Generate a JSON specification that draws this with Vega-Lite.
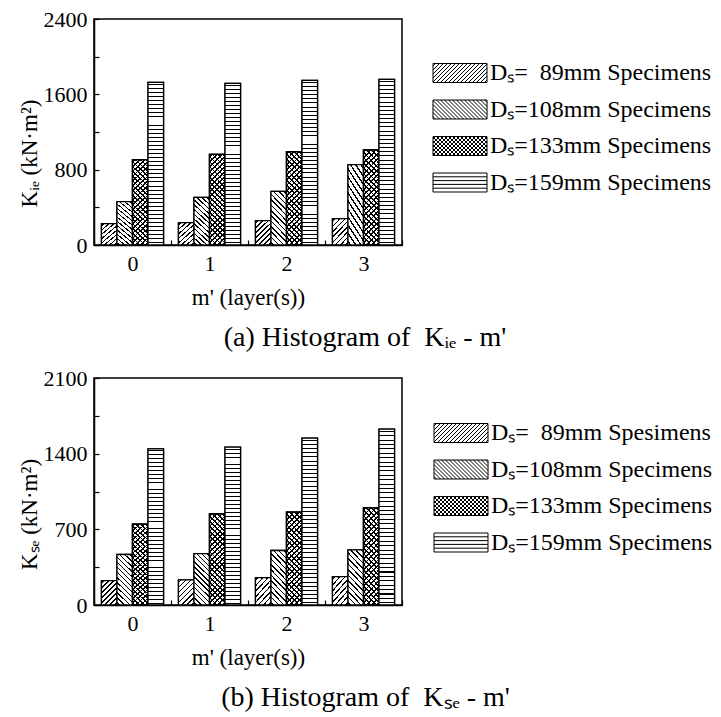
{
"$schema": "https://vega.github.io/schema/vega-lite/v6.json",
"background": "white",
"padding": {"left": 17, "top": 7, "right": 5, "bottom": 5},
"spacing": 13,
"datasets": {
"ie": [
{"m":"0","series":"s089","K":226},{"m":"0","series":"s108","K":460},{"m":"0","series":"s133","K":906},{"m":"0","series":"s159","K":1727},
{"m":"1","series":"s089","K":237},{"m":"1","series":"s108","K":506},{"m":"1","series":"s133","K":963},{"m":"1","series":"s159","K":1717},
{"m":"2","series":"s089","K":258},{"m":"2","series":"s108","K":570},{"m":"2","series":"s133","K":991},{"m":"2","series":"s159","K":1749},
{"m":"3","series":"s089","K":280},{"m":"3","series":"s108","K":853},{"m":"3","series":"s133","K":1009},{"m":"3","series":"s159","K":1759}
],
"se": [
{"m":"0","series":"s089","K":226},{"m":"0","series":"s108","K":467},{"m":"0","series":"s133","K":748},{"m":"0","series":"s159","K":1444},
{"m":"1","series":"s089","K":232},{"m":"1","series":"s108","K":476},{"m":"1","series":"s133","K":844},{"m":"1","series":"s159","K":1460},
{"m":"2","series":"s089","K":254},{"m":"2","series":"s108","K":504},{"m":"2","series":"s133","K":860},{"m":"2","series":"s159","K":1543},
{"m":"3","series":"s089","K":263},{"m":"3","series":"s108","K":510},{"m":"3","series":"s133","K":900},{"m":"3","series":"s159","K":1627}
]
},
"vconcat": [
{
"data": {"name": "ie"},
"width": 308, "height": 226,
"title": {"text": "(a) Histogram of\u00a0\u00a0K\u1d62\u2091 - m'", "orient": "bottom", "anchor": "middle", "frame": "bounds", "offset": 15},
"encoding": {
"x": {"field": "m", "type": "nominal", "scale": {"paddingInner": 0, "paddingOuter": 0}, "axis": {"title": "m' (layer(s))", "labelAngle": 0, "tickBand": "extent", "labelPadding": 13, "titlePadding": 12}},
"y": {"field": "K", "type": "quantitative", "scale": {"domain": [0, 2400], "nice": false}, "axis": {"title": "K\u1d62\u2091 (kN\u00b7m\u00b2)", "values": [0,400,800,1200,1600,2000,2400], "format": "d", "labelExpr": "datum.value % 800 === 0 ? datum.label : ''", "labelOverlap": false, "labelPadding": 12, "titlePadding": 2, "titleY": 134}},
"xOffset": {"field": "series", "type": "nominal", "scale": {"paddingInner": 0, "paddingOuter": 0.48}}
},
"layer": [
{"mark": {"type": "bar", "fill": "white", "strokeWidth": 1.3},
 "encoding": {"stroke": {"field": "series", "type": "nominal", "scale": {"range": ["black","black","black","black"]},
  "legend": {"title": null, "orient": "none", "legendX": 327, "legendY": 42, "symbolSize": 4, "symbolOffset": 27, "labelOffset": 18, "rowPadding": 12.5, "symbolStrokeWidth": 1, "labelFontSize": 24, "labelFont": "Liberation Serif", "labelColor": "black", "labelLimit": 0,
   "labelExpr": "datum.value === 's089' ? 'D\u209b=\u00a0\u00a089mm Specimens' : datum.value === 's108' ? 'D\u209b=108mm Specimens' : datum.value === 's133' ? 'D\u209b=133mm Specimens' : 'D\u209b=159mm Specimens'",
   "encoding": {"symbols": {"strokeWidth": {"value": 1}, "shape": {"condition": [
    {"test": "datum.value === 's089'", "value": "M-27,-9.5H27V9.5H-27ZM-27,-7L-24.5,-9.5M-27,-3L-20.5,-9.5M-27,1L-16.5,-9.5M-27,5L-12.5,-9.5M-27,9L-8.5,-9.5M-23.5,9.5L-4.5,-9.5M-19.5,9.5L-0.5,-9.5M-15.5,9.5L3.5,-9.5M-11.5,9.5L7.5,-9.5M-7.5,9.5L11.5,-9.5M-3.5,9.5L15.5,-9.5M0.5,9.5L19.5,-9.5M4.5,9.5L23.5,-9.5M8.5,9.5L27,-9M12.5,9.5L27,-5M16.5,9.5L27,-1M20.5,9.5L27,3M24.5,9.5L27,7"},
    {"test": "datum.value === 's108'", "value": "M-27,-9.5H27V9.5H-27ZM27,-7L24.5,-9.5M27,-3L20.5,-9.5M27,1L16.5,-9.5M27,5L12.5,-9.5M27,9L8.5,-9.5M23.5,9.5L4.5,-9.5M19.5,9.5L0.5,-9.5M15.5,9.5L-3.5,-9.5M11.5,9.5L-7.5,-9.5M7.5,9.5L-11.5,-9.5M3.5,9.5L-15.5,-9.5M-0.5,9.5L-19.5,-9.5M-4.5,9.5L-23.5,-9.5M-8.5,9.5L-27,-9M-12.5,9.5L-27,-5M-16.5,9.5L-27,-1M-20.5,9.5L-27,3M-24.5,9.5L-27,7"},
    {"test": "datum.value === 's133'", "value": "M-27,-9.5H27V9.5H-27ZM-27,-7L-24.5,-9.5M-27,-3L-20.5,-9.5M-27,1L-16.5,-9.5M-27,5L-12.5,-9.5M-27,9L-8.5,-9.5M-23.5,9.5L-4.5,-9.5M-19.5,9.5L-0.5,-9.5M-15.5,9.5L3.5,-9.5M-11.5,9.5L7.5,-9.5M-7.5,9.5L11.5,-9.5M-3.5,9.5L15.5,-9.5M0.5,9.5L19.5,-9.5M4.5,9.5L23.5,-9.5M8.5,9.5L27,-9M12.5,9.5L27,-5M16.5,9.5L27,-1M20.5,9.5L27,3M24.5,9.5L27,7M27,-7L24.5,-9.5M27,-3L20.5,-9.5M27,1L16.5,-9.5M27,5L12.5,-9.5M27,9L8.5,-9.5M23.5,9.5L4.5,-9.5M19.5,9.5L0.5,-9.5M15.5,9.5L-3.5,-9.5M11.5,9.5L-7.5,-9.5M7.5,9.5L-11.5,-9.5M3.5,9.5L-15.5,-9.5M-0.5,9.5L-19.5,-9.5M-4.5,9.5L-23.5,-9.5M-8.5,9.5L-27,-9M-12.5,9.5L-27,-5M-16.5,9.5L-27,-1M-20.5,9.5L-27,3M-24.5,9.5L-27,7"}
   ], "value": "M-27,-9.5H27V9.5H-27ZM-27,-5.7H27M-27,-1.9H27M-27,1.9H27M-27,5.7H27"}}}
  }}}},
{"transform": [{"filter": "datum.series === 's089'"}], "mark": {"type": "bar", "stroke": "black", "strokeWidth": 1.3, "fill": {"gradient": "linear", "x1": 0, "y1": 0, "x2": 0.7255, "y2": 1.17, "stops": [
{"offset":0.0435,"color":"#fff"},{"offset":0.0435,"color":"#000"},{"offset":0.0815,"color":"#000"},{"offset":0.0815,"color":"#fff"},
{"offset":0.1685,"color":"#fff"},{"offset":0.1685,"color":"#000"},{"offset":0.2065,"color":"#000"},{"offset":0.2065,"color":"#fff"},
{"offset":0.2935,"color":"#fff"},{"offset":0.2935,"color":"#000"},{"offset":0.3315,"color":"#000"},{"offset":0.3315,"color":"#fff"},
{"offset":0.4185,"color":"#fff"},{"offset":0.4185,"color":"#000"},{"offset":0.4565,"color":"#000"},{"offset":0.4565,"color":"#fff"},
{"offset":0.5435,"color":"#fff"},{"offset":0.5435,"color":"#000"},{"offset":0.5815,"color":"#000"},{"offset":0.5815,"color":"#fff"},
{"offset":0.6685,"color":"#fff"},{"offset":0.6685,"color":"#000"},{"offset":0.7065,"color":"#000"},{"offset":0.7065,"color":"#fff"},
{"offset":0.7935,"color":"#fff"},{"offset":0.7935,"color":"#000"},{"offset":0.8315,"color":"#000"},{"offset":0.8315,"color":"#fff"},
{"offset":0.9185,"color":"#fff"},{"offset":0.9185,"color":"#000"},{"offset":0.9565,"color":"#000"},{"offset":0.9565,"color":"#fff"}
]}}},
{"transform": [{"filter": "datum.series === 's108'"}], "mark": {"type": "bar", "stroke": "black", "strokeWidth": 1.3, "fill": {"gradient": "linear", "x1": 0, "y1": 1, "x2": 0.3553, "y2": -0.1921, "stops": [
{"offset":0.0270,"color":"#fff"},{"offset":0.0270,"color":"#000"},{"offset":0.0500,"color":"#000"},{"offset":0.0500,"color":"#fff"},
{"offset":0.1039,"color":"#fff"},{"offset":0.1039,"color":"#000"},{"offset":0.1269,"color":"#000"},{"offset":0.1269,"color":"#fff"},
{"offset":0.1808,"color":"#fff"},{"offset":0.1808,"color":"#000"},{"offset":0.2038,"color":"#000"},{"offset":0.2038,"color":"#fff"},
{"offset":0.2577,"color":"#fff"},{"offset":0.2577,"color":"#000"},{"offset":0.2807,"color":"#000"},{"offset":0.2807,"color":"#fff"},
{"offset":0.3347,"color":"#fff"},{"offset":0.3347,"color":"#000"},{"offset":0.3577,"color":"#000"},{"offset":0.3577,"color":"#fff"},
{"offset":0.4116,"color":"#fff"},{"offset":0.4116,"color":"#000"},{"offset":0.4346,"color":"#000"},{"offset":0.4346,"color":"#fff"},
{"offset":0.4885,"color":"#fff"},{"offset":0.4885,"color":"#000"},{"offset":0.5115,"color":"#000"},{"offset":0.5115,"color":"#fff"},
{"offset":0.5654,"color":"#fff"},{"offset":0.5654,"color":"#000"},{"offset":0.5884,"color":"#000"},{"offset":0.5884,"color":"#fff"},
{"offset":0.6424,"color":"#fff"},{"offset":0.6424,"color":"#000"},{"offset":0.6654,"color":"#000"},{"offset":0.6654,"color":"#fff"},
{"offset":0.7193,"color":"#fff"},{"offset":0.7193,"color":"#000"},{"offset":0.7423,"color":"#000"},{"offset":0.7423,"color":"#fff"},
{"offset":0.7962,"color":"#fff"},{"offset":0.7962,"color":"#000"},{"offset":0.8192,"color":"#000"},{"offset":0.8192,"color":"#fff"},
{"offset":0.8731,"color":"#fff"},{"offset":0.8731,"color":"#000"},{"offset":0.8961,"color":"#000"},{"offset":0.8961,"color":"#fff"},
{"offset":0.9500,"color":"#fff"},{"offset":0.9500,"color":"#000"},{"offset":0.9730,"color":"#000"},{"offset":0.9730,"color":"#fff"}
]}}},
{"transform": [{"filter": "datum.series === 's133'"}], "mark": {"type": "bar", "stroke": "black", "strokeWidth": 1.3, "fill": {"gradient": "linear", "x1": 0, "y1": 0, "x2": 0.1961, "y2": 1.1385, "stops": [
{"offset":0.0158,"color":"#fff"},{"offset":0.0158,"color":"#000"},{"offset":0.0318,"color":"#000"},{"offset":0.0318,"color":"#fff"},
{"offset":0.0634,"color":"#fff"},{"offset":0.0634,"color":"#000"},{"offset":0.0794,"color":"#000"},{"offset":0.0794,"color":"#fff"},
{"offset":0.1110,"color":"#fff"},{"offset":0.1110,"color":"#000"},{"offset":0.1270,"color":"#000"},{"offset":0.1270,"color":"#fff"},
{"offset":0.1587,"color":"#fff"},{"offset":0.1587,"color":"#000"},{"offset":0.1747,"color":"#000"},{"offset":0.1747,"color":"#fff"},
{"offset":0.2063,"color":"#fff"},{"offset":0.2063,"color":"#000"},{"offset":0.2223,"color":"#000"},{"offset":0.2223,"color":"#fff"},
{"offset":0.2539,"color":"#fff"},{"offset":0.2539,"color":"#000"},{"offset":0.2699,"color":"#000"},{"offset":0.2699,"color":"#fff"},
{"offset":0.3015,"color":"#fff"},{"offset":0.3015,"color":"#000"},{"offset":0.3175,"color":"#000"},{"offset":0.3175,"color":"#fff"},
{"offset":0.3491,"color":"#fff"},{"offset":0.3491,"color":"#000"},{"offset":0.3651,"color":"#000"},{"offset":0.3651,"color":"#fff"},
{"offset":0.3968,"color":"#fff"},{"offset":0.3968,"color":"#000"},{"offset":0.4128,"color":"#000"},{"offset":0.4128,"color":"#fff"},
{"offset":0.4444,"color":"#fff"},{"offset":0.4444,"color":"#000"},{"offset":0.4604,"color":"#000"},{"offset":0.4604,"color":"#fff"},
{"offset":0.4920,"color":"#fff"},{"offset":0.4920,"color":"#000"},{"offset":0.5080,"color":"#000"},{"offset":0.5080,"color":"#fff"},
{"offset":0.5396,"color":"#fff"},{"offset":0.5396,"color":"#000"},{"offset":0.5556,"color":"#000"},{"offset":0.5556,"color":"#fff"},
{"offset":0.5872,"color":"#fff"},{"offset":0.5872,"color":"#000"},{"offset":0.6032,"color":"#000"},{"offset":0.6032,"color":"#fff"},
{"offset":0.6349,"color":"#fff"},{"offset":0.6349,"color":"#000"},{"offset":0.6509,"color":"#000"},{"offset":0.6509,"color":"#fff"},
{"offset":0.6825,"color":"#fff"},{"offset":0.6825,"color":"#000"},{"offset":0.6985,"color":"#000"},{"offset":0.6985,"color":"#fff"},
{"offset":0.7301,"color":"#fff"},{"offset":0.7301,"color":"#000"},{"offset":0.7461,"color":"#000"},{"offset":0.7461,"color":"#fff"},
{"offset":0.7777,"color":"#fff"},{"offset":0.7777,"color":"#000"},{"offset":0.7937,"color":"#000"},{"offset":0.7937,"color":"#fff"},
{"offset":0.8253,"color":"#fff"},{"offset":0.8253,"color":"#000"},{"offset":0.8413,"color":"#000"},{"offset":0.8413,"color":"#fff"},
{"offset":0.8730,"color":"#fff"},{"offset":0.8730,"color":"#000"},{"offset":0.8890,"color":"#000"},{"offset":0.8890,"color":"#fff"},
{"offset":0.9206,"color":"#fff"},{"offset":0.9206,"color":"#000"},{"offset":0.9366,"color":"#000"},{"offset":0.9366,"color":"#fff"},
{"offset":0.9682,"color":"#fff"},{"offset":0.9682,"color":"#000"},{"offset":0.9842,"color":"#000"},{"offset":0.9842,"color":"#fff"}
]}}},
{"transform": [{"filter": "datum.series === 's133'"}], "mark": {"type": "bar", "stroke": "black", "strokeWidth": 1.3, "fill": {"gradient": "linear", "x1": 0, "y1": 1, "x2": 0.1961, "y2": -0.1385, "stops": [
{"offset":0.0158,"color":"rgba(0,0,0,0)"},{"offset":0.0158,"color":"#000"},{"offset":0.0318,"color":"#000"},{"offset":0.0318,"color":"rgba(0,0,0,0)"},
{"offset":0.0634,"color":"rgba(0,0,0,0)"},{"offset":0.0634,"color":"#000"},{"offset":0.0794,"color":"#000"},{"offset":0.0794,"color":"rgba(0,0,0,0)"},
{"offset":0.1110,"color":"rgba(0,0,0,0)"},{"offset":0.1110,"color":"#000"},{"offset":0.1270,"color":"#000"},{"offset":0.1270,"color":"rgba(0,0,0,0)"},
{"offset":0.1587,"color":"rgba(0,0,0,0)"},{"offset":0.1587,"color":"#000"},{"offset":0.1747,"color":"#000"},{"offset":0.1747,"color":"rgba(0,0,0,0)"},
{"offset":0.2063,"color":"rgba(0,0,0,0)"},{"offset":0.2063,"color":"#000"},{"offset":0.2223,"color":"#000"},{"offset":0.2223,"color":"rgba(0,0,0,0)"},
{"offset":0.2539,"color":"rgba(0,0,0,0)"},{"offset":0.2539,"color":"#000"},{"offset":0.2699,"color":"#000"},{"offset":0.2699,"color":"rgba(0,0,0,0)"},
{"offset":0.3015,"color":"rgba(0,0,0,0)"},{"offset":0.3015,"color":"#000"},{"offset":0.3175,"color":"#000"},{"offset":0.3175,"color":"rgba(0,0,0,0)"},
{"offset":0.3491,"color":"rgba(0,0,0,0)"},{"offset":0.3491,"color":"#000"},{"offset":0.3651,"color":"#000"},{"offset":0.3651,"color":"rgba(0,0,0,0)"},
{"offset":0.3968,"color":"rgba(0,0,0,0)"},{"offset":0.3968,"color":"#000"},{"offset":0.4128,"color":"#000"},{"offset":0.4128,"color":"rgba(0,0,0,0)"},
{"offset":0.4444,"color":"rgba(0,0,0,0)"},{"offset":0.4444,"color":"#000"},{"offset":0.4604,"color":"#000"},{"offset":0.4604,"color":"rgba(0,0,0,0)"},
{"offset":0.4920,"color":"rgba(0,0,0,0)"},{"offset":0.4920,"color":"#000"},{"offset":0.5080,"color":"#000"},{"offset":0.5080,"color":"rgba(0,0,0,0)"},
{"offset":0.5396,"color":"rgba(0,0,0,0)"},{"offset":0.5396,"color":"#000"},{"offset":0.5556,"color":"#000"},{"offset":0.5556,"color":"rgba(0,0,0,0)"},
{"offset":0.5872,"color":"rgba(0,0,0,0)"},{"offset":0.5872,"color":"#000"},{"offset":0.6032,"color":"#000"},{"offset":0.6032,"color":"rgba(0,0,0,0)"},
{"offset":0.6349,"color":"rgba(0,0,0,0)"},{"offset":0.6349,"color":"#000"},{"offset":0.6509,"color":"#000"},{"offset":0.6509,"color":"rgba(0,0,0,0)"},
{"offset":0.6825,"color":"rgba(0,0,0,0)"},{"offset":0.6825,"color":"#000"},{"offset":0.6985,"color":"#000"},{"offset":0.6985,"color":"rgba(0,0,0,0)"},
{"offset":0.7301,"color":"rgba(0,0,0,0)"},{"offset":0.7301,"color":"#000"},{"offset":0.7461,"color":"#000"},{"offset":0.7461,"color":"rgba(0,0,0,0)"},
{"offset":0.7777,"color":"rgba(0,0,0,0)"},{"offset":0.7777,"color":"#000"},{"offset":0.7937,"color":"#000"},{"offset":0.7937,"color":"rgba(0,0,0,0)"},
{"offset":0.8253,"color":"rgba(0,0,0,0)"},{"offset":0.8253,"color":"#000"},{"offset":0.8413,"color":"#000"},{"offset":0.8413,"color":"rgba(0,0,0,0)"},
{"offset":0.8730,"color":"rgba(0,0,0,0)"},{"offset":0.8730,"color":"#000"},{"offset":0.8890,"color":"#000"},{"offset":0.8890,"color":"rgba(0,0,0,0)"},
{"offset":0.9206,"color":"rgba(0,0,0,0)"},{"offset":0.9206,"color":"#000"},{"offset":0.9366,"color":"#000"},{"offset":0.9366,"color":"rgba(0,0,0,0)"},
{"offset":0.9682,"color":"rgba(0,0,0,0)"},{"offset":0.9682,"color":"#000"},{"offset":0.9842,"color":"#000"},{"offset":0.9842,"color":"rgba(0,0,0,0)"}
]}}},
{"transform": [{"filter": "datum.series === 's159'"}], "mark": {"type": "bar", "stroke": "black", "strokeWidth": 1.3, "fill": {"gradient": "linear", "x1": 0, "y1": 0, "x2": 0, "y2": 1, "stops": [
{"offset":0.0095,"color":"#fff"},{"offset":0.0095,"color":"#000"},{"offset":0.0155,"color":"#000"},{"offset":0.0155,"color":"#fff"},
{"offset":0.0345,"color":"#fff"},{"offset":0.0345,"color":"#000"},{"offset":0.0405,"color":"#000"},{"offset":0.0405,"color":"#fff"},
{"offset":0.0595,"color":"#fff"},{"offset":0.0595,"color":"#000"},{"offset":0.0655,"color":"#000"},{"offset":0.0655,"color":"#fff"},
{"offset":0.0845,"color":"#fff"},{"offset":0.0845,"color":"#000"},{"offset":0.0905,"color":"#000"},{"offset":0.0905,"color":"#fff"},
{"offset":0.1095,"color":"#fff"},{"offset":0.1095,"color":"#000"},{"offset":0.1155,"color":"#000"},{"offset":0.1155,"color":"#fff"},
{"offset":0.1345,"color":"#fff"},{"offset":0.1345,"color":"#000"},{"offset":0.1405,"color":"#000"},{"offset":0.1405,"color":"#fff"},
{"offset":0.1595,"color":"#fff"},{"offset":0.1595,"color":"#000"},{"offset":0.1655,"color":"#000"},{"offset":0.1655,"color":"#fff"},
{"offset":0.1845,"color":"#fff"},{"offset":0.1845,"color":"#000"},{"offset":0.1905,"color":"#000"},{"offset":0.1905,"color":"#fff"},
{"offset":0.2095,"color":"#fff"},{"offset":0.2095,"color":"#000"},{"offset":0.2155,"color":"#000"},{"offset":0.2155,"color":"#fff"},
{"offset":0.2345,"color":"#fff"},{"offset":0.2345,"color":"#000"},{"offset":0.2405,"color":"#000"},{"offset":0.2405,"color":"#fff"},
{"offset":0.2595,"color":"#fff"},{"offset":0.2595,"color":"#000"},{"offset":0.2655,"color":"#000"},{"offset":0.2655,"color":"#fff"},
{"offset":0.2845,"color":"#fff"},{"offset":0.2845,"color":"#000"},{"offset":0.2905,"color":"#000"},{"offset":0.2905,"color":"#fff"},
{"offset":0.3095,"color":"#fff"},{"offset":0.3095,"color":"#000"},{"offset":0.3155,"color":"#000"},{"offset":0.3155,"color":"#fff"},
{"offset":0.3345,"color":"#fff"},{"offset":0.3345,"color":"#000"},{"offset":0.3405,"color":"#000"},{"offset":0.3405,"color":"#fff"},
{"offset":0.3595,"color":"#fff"},{"offset":0.3595,"color":"#000"},{"offset":0.3655,"color":"#000"},{"offset":0.3655,"color":"#fff"},
{"offset":0.3845,"color":"#fff"},{"offset":0.3845,"color":"#000"},{"offset":0.3905,"color":"#000"},{"offset":0.3905,"color":"#fff"},
{"offset":0.4095,"color":"#fff"},{"offset":0.4095,"color":"#000"},{"offset":0.4155,"color":"#000"},{"offset":0.4155,"color":"#fff"},
{"offset":0.4345,"color":"#fff"},{"offset":0.4345,"color":"#000"},{"offset":0.4405,"color":"#000"},{"offset":0.4405,"color":"#fff"},
{"offset":0.4595,"color":"#fff"},{"offset":0.4595,"color":"#000"},{"offset":0.4655,"color":"#000"},{"offset":0.4655,"color":"#fff"},
{"offset":0.4845,"color":"#fff"},{"offset":0.4845,"color":"#000"},{"offset":0.4905,"color":"#000"},{"offset":0.4905,"color":"#fff"},
{"offset":0.5095,"color":"#fff"},{"offset":0.5095,"color":"#000"},{"offset":0.5155,"color":"#000"},{"offset":0.5155,"color":"#fff"},
{"offset":0.5345,"color":"#fff"},{"offset":0.5345,"color":"#000"},{"offset":0.5405,"color":"#000"},{"offset":0.5405,"color":"#fff"},
{"offset":0.5595,"color":"#fff"},{"offset":0.5595,"color":"#000"},{"offset":0.5655,"color":"#000"},{"offset":0.5655,"color":"#fff"},
{"offset":0.5845,"color":"#fff"},{"offset":0.5845,"color":"#000"},{"offset":0.5905,"color":"#000"},{"offset":0.5905,"color":"#fff"},
{"offset":0.6095,"color":"#fff"},{"offset":0.6095,"color":"#000"},{"offset":0.6155,"color":"#000"},{"offset":0.6155,"color":"#fff"},
{"offset":0.6345,"color":"#fff"},{"offset":0.6345,"color":"#000"},{"offset":0.6405,"color":"#000"},{"offset":0.6405,"color":"#fff"},
{"offset":0.6595,"color":"#fff"},{"offset":0.6595,"color":"#000"},{"offset":0.6655,"color":"#000"},{"offset":0.6655,"color":"#fff"},
{"offset":0.6845,"color":"#fff"},{"offset":0.6845,"color":"#000"},{"offset":0.6905,"color":"#000"},{"offset":0.6905,"color":"#fff"},
{"offset":0.7095,"color":"#fff"},{"offset":0.7095,"color":"#000"},{"offset":0.7155,"color":"#000"},{"offset":0.7155,"color":"#fff"},
{"offset":0.7345,"color":"#fff"},{"offset":0.7345,"color":"#000"},{"offset":0.7405,"color":"#000"},{"offset":0.7405,"color":"#fff"},
{"offset":0.7595,"color":"#fff"},{"offset":0.7595,"color":"#000"},{"offset":0.7655,"color":"#000"},{"offset":0.7655,"color":"#fff"},
{"offset":0.7845,"color":"#fff"},{"offset":0.7845,"color":"#000"},{"offset":0.7905,"color":"#000"},{"offset":0.7905,"color":"#fff"},
{"offset":0.8095,"color":"#fff"},{"offset":0.8095,"color":"#000"},{"offset":0.8155,"color":"#000"},{"offset":0.8155,"color":"#fff"},
{"offset":0.8345,"color":"#fff"},{"offset":0.8345,"color":"#000"},{"offset":0.8405,"color":"#000"},{"offset":0.8405,"color":"#fff"},
{"offset":0.8595,"color":"#fff"},{"offset":0.8595,"color":"#000"},{"offset":0.8655,"color":"#000"},{"offset":0.8655,"color":"#fff"},
{"offset":0.8845,"color":"#fff"},{"offset":0.8845,"color":"#000"},{"offset":0.8905,"color":"#000"},{"offset":0.8905,"color":"#fff"},
{"offset":0.9095,"color":"#fff"},{"offset":0.9095,"color":"#000"},{"offset":0.9155,"color":"#000"},{"offset":0.9155,"color":"#fff"},
{"offset":0.9345,"color":"#fff"},{"offset":0.9345,"color":"#000"},{"offset":0.9405,"color":"#000"},{"offset":0.9405,"color":"#fff"},
{"offset":0.9595,"color":"#fff"},{"offset":0.9595,"color":"#000"},{"offset":0.9655,"color":"#000"},{"offset":0.9655,"color":"#fff"},
{"offset":0.9845,"color":"#fff"},{"offset":0.9845,"color":"#000"},{"offset":0.9905,"color":"#000"},{"offset":0.9905,"color":"#fff"}
]}}}
]
},
{
"data": {"name": "se"},
"width": 308, "height": 227,
"title": {"text": "(b) Histogram of\u00a0\u00a0K\u209b\u2091 - m'", "orient": "bottom", "anchor": "middle", "frame": "bounds", "offset": 15},
"encoding": {
"x": {"field": "m", "type": "nominal", "scale": {"paddingInner": 0, "paddingOuter": 0}, "axis": {"title": "m' (layer(s))", "labelAngle": 0, "tickBand": "extent", "labelPadding": 13, "titlePadding": 12}},
"y": {"field": "K", "type": "quantitative", "scale": {"domain": [0, 2100], "nice": false}, "axis": {"title": "K\u209b\u2091 (kN\u00b7m\u00b2)", "values": [0,350,700,1050,1400,1750,2100], "format": "d", "labelExpr": "datum.value % 700 === 0 ? datum.label : ''", "labelOverlap": false, "labelPadding": 12, "titlePadding": 2, "titleY": 136}},
"xOffset": {"field": "series", "type": "nominal", "scale": {"paddingInner": 0, "paddingOuter": 0.48}}
},
"layer": [
{"mark": {"type": "bar", "fill": "white", "strokeWidth": 1.3},
 "encoding": {"stroke": {"field": "series", "type": "nominal", "scale": {"range": ["black","black","black","black"]},
  "legend": {"title": null, "orient": "none", "legendX": 328, "legendY": 43, "symbolSize": 4, "symbolOffset": 27, "labelOffset": 18, "rowPadding": 12.5, "symbolStrokeWidth": 1, "labelFontSize": 24, "labelFont": "Liberation Serif", "labelColor": "black", "labelLimit": 0,
   "labelExpr": "datum.value === 's089' ? 'D\u209b=\u00a0\u00a089mm Spesimens' : datum.value === 's108' ? 'D\u209b=108mm Specimens' : datum.value === 's133' ? 'D\u209b=133mm Specimens' : 'D\u209b=159mm Specimens'",
   "encoding": {"symbols": {"strokeWidth": {"value": 1}, "shape": {"condition": [
    {"test": "datum.value === 's089'", "value": "M-27,-9.5H27V9.5H-27ZM-27,-7L-24.5,-9.5M-27,-3L-20.5,-9.5M-27,1L-16.5,-9.5M-27,5L-12.5,-9.5M-27,9L-8.5,-9.5M-23.5,9.5L-4.5,-9.5M-19.5,9.5L-0.5,-9.5M-15.5,9.5L3.5,-9.5M-11.5,9.5L7.5,-9.5M-7.5,9.5L11.5,-9.5M-3.5,9.5L15.5,-9.5M0.5,9.5L19.5,-9.5M4.5,9.5L23.5,-9.5M8.5,9.5L27,-9M12.5,9.5L27,-5M16.5,9.5L27,-1M20.5,9.5L27,3M24.5,9.5L27,7"},
    {"test": "datum.value === 's108'", "value": "M-27,-9.5H27V9.5H-27ZM27,-7L24.5,-9.5M27,-3L20.5,-9.5M27,1L16.5,-9.5M27,5L12.5,-9.5M27,9L8.5,-9.5M23.5,9.5L4.5,-9.5M19.5,9.5L0.5,-9.5M15.5,9.5L-3.5,-9.5M11.5,9.5L-7.5,-9.5M7.5,9.5L-11.5,-9.5M3.5,9.5L-15.5,-9.5M-0.5,9.5L-19.5,-9.5M-4.5,9.5L-23.5,-9.5M-8.5,9.5L-27,-9M-12.5,9.5L-27,-5M-16.5,9.5L-27,-1M-20.5,9.5L-27,3M-24.5,9.5L-27,7"},
    {"test": "datum.value === 's133'", "value": "M-27,-9.5H27V9.5H-27ZM-27,-7L-24.5,-9.5M-27,-3L-20.5,-9.5M-27,1L-16.5,-9.5M-27,5L-12.5,-9.5M-27,9L-8.5,-9.5M-23.5,9.5L-4.5,-9.5M-19.5,9.5L-0.5,-9.5M-15.5,9.5L3.5,-9.5M-11.5,9.5L7.5,-9.5M-7.5,9.5L11.5,-9.5M-3.5,9.5L15.5,-9.5M0.5,9.5L19.5,-9.5M4.5,9.5L23.5,-9.5M8.5,9.5L27,-9M12.5,9.5L27,-5M16.5,9.5L27,-1M20.5,9.5L27,3M24.5,9.5L27,7M27,-7L24.5,-9.5M27,-3L20.5,-9.5M27,1L16.5,-9.5M27,5L12.5,-9.5M27,9L8.5,-9.5M23.5,9.5L4.5,-9.5M19.5,9.5L0.5,-9.5M15.5,9.5L-3.5,-9.5M11.5,9.5L-7.5,-9.5M7.5,9.5L-11.5,-9.5M3.5,9.5L-15.5,-9.5M-0.5,9.5L-19.5,-9.5M-4.5,9.5L-23.5,-9.5M-8.5,9.5L-27,-9M-12.5,9.5L-27,-5M-16.5,9.5L-27,-1M-20.5,9.5L-27,3M-24.5,9.5L-27,7"}
   ], "value": "M-27,-9.5H27V9.5H-27ZM-27,-5.7H27M-27,-1.9H27M-27,1.9H27M-27,5.7H27"}}}
  }}}},
{"transform": [{"filter": "datum.series === 's089'"}], "mark": {"type": "bar", "stroke": "black", "strokeWidth": 1.3, "fill": {"gradient": "linear", "x1": 0, "y1": 0, "x2": 0.7255, "y2": 1.17, "stops": [
{"offset":0.0435,"color":"#fff"},{"offset":0.0435,"color":"#000"},{"offset":0.0815,"color":"#000"},{"offset":0.0815,"color":"#fff"},
{"offset":0.1685,"color":"#fff"},{"offset":0.1685,"color":"#000"},{"offset":0.2065,"color":"#000"},{"offset":0.2065,"color":"#fff"},
{"offset":0.2935,"color":"#fff"},{"offset":0.2935,"color":"#000"},{"offset":0.3315,"color":"#000"},{"offset":0.3315,"color":"#fff"},
{"offset":0.4185,"color":"#fff"},{"offset":0.4185,"color":"#000"},{"offset":0.4565,"color":"#000"},{"offset":0.4565,"color":"#fff"},
{"offset":0.5435,"color":"#fff"},{"offset":0.5435,"color":"#000"},{"offset":0.5815,"color":"#000"},{"offset":0.5815,"color":"#fff"},
{"offset":0.6685,"color":"#fff"},{"offset":0.6685,"color":"#000"},{"offset":0.7065,"color":"#000"},{"offset":0.7065,"color":"#fff"},
{"offset":0.7935,"color":"#fff"},{"offset":0.7935,"color":"#000"},{"offset":0.8315,"color":"#000"},{"offset":0.8315,"color":"#fff"},
{"offset":0.9185,"color":"#fff"},{"offset":0.9185,"color":"#000"},{"offset":0.9565,"color":"#000"},{"offset":0.9565,"color":"#fff"}
]}}},
{"transform": [{"filter": "datum.series === 's108'"}], "mark": {"type": "bar", "stroke": "black", "strokeWidth": 1.3, "fill": {"gradient": "linear", "x1": 0, "y1": 1, "x2": 0.3553, "y2": -0.1921, "stops": [
{"offset":0.0270,"color":"#fff"},{"offset":0.0270,"color":"#000"},{"offset":0.0500,"color":"#000"},{"offset":0.0500,"color":"#fff"},
{"offset":0.1039,"color":"#fff"},{"offset":0.1039,"color":"#000"},{"offset":0.1269,"color":"#000"},{"offset":0.1269,"color":"#fff"},
{"offset":0.1808,"color":"#fff"},{"offset":0.1808,"color":"#000"},{"offset":0.2038,"color":"#000"},{"offset":0.2038,"color":"#fff"},
{"offset":0.2577,"color":"#fff"},{"offset":0.2577,"color":"#000"},{"offset":0.2807,"color":"#000"},{"offset":0.2807,"color":"#fff"},
{"offset":0.3347,"color":"#fff"},{"offset":0.3347,"color":"#000"},{"offset":0.3577,"color":"#000"},{"offset":0.3577,"color":"#fff"},
{"offset":0.4116,"color":"#fff"},{"offset":0.4116,"color":"#000"},{"offset":0.4346,"color":"#000"},{"offset":0.4346,"color":"#fff"},
{"offset":0.4885,"color":"#fff"},{"offset":0.4885,"color":"#000"},{"offset":0.5115,"color":"#000"},{"offset":0.5115,"color":"#fff"},
{"offset":0.5654,"color":"#fff"},{"offset":0.5654,"color":"#000"},{"offset":0.5884,"color":"#000"},{"offset":0.5884,"color":"#fff"},
{"offset":0.6424,"color":"#fff"},{"offset":0.6424,"color":"#000"},{"offset":0.6654,"color":"#000"},{"offset":0.6654,"color":"#fff"},
{"offset":0.7193,"color":"#fff"},{"offset":0.7193,"color":"#000"},{"offset":0.7423,"color":"#000"},{"offset":0.7423,"color":"#fff"},
{"offset":0.7962,"color":"#fff"},{"offset":0.7962,"color":"#000"},{"offset":0.8192,"color":"#000"},{"offset":0.8192,"color":"#fff"},
{"offset":0.8731,"color":"#fff"},{"offset":0.8731,"color":"#000"},{"offset":0.8961,"color":"#000"},{"offset":0.8961,"color":"#fff"},
{"offset":0.9500,"color":"#fff"},{"offset":0.9500,"color":"#000"},{"offset":0.9730,"color":"#000"},{"offset":0.9730,"color":"#fff"}
]}}},
{"transform": [{"filter": "datum.series === 's133'"}], "mark": {"type": "bar", "stroke": "black", "strokeWidth": 1.3, "fill": {"gradient": "linear", "x1": 0, "y1": 0, "x2": 0.1961, "y2": 1.1385, "stops": [
{"offset":0.0158,"color":"#fff"},{"offset":0.0158,"color":"#000"},{"offset":0.0318,"color":"#000"},{"offset":0.0318,"color":"#fff"},
{"offset":0.0634,"color":"#fff"},{"offset":0.0634,"color":"#000"},{"offset":0.0794,"color":"#000"},{"offset":0.0794,"color":"#fff"},
{"offset":0.1110,"color":"#fff"},{"offset":0.1110,"color":"#000"},{"offset":0.1270,"color":"#000"},{"offset":0.1270,"color":"#fff"},
{"offset":0.1587,"color":"#fff"},{"offset":0.1587,"color":"#000"},{"offset":0.1747,"color":"#000"},{"offset":0.1747,"color":"#fff"},
{"offset":0.2063,"color":"#fff"},{"offset":0.2063,"color":"#000"},{"offset":0.2223,"color":"#000"},{"offset":0.2223,"color":"#fff"},
{"offset":0.2539,"color":"#fff"},{"offset":0.2539,"color":"#000"},{"offset":0.2699,"color":"#000"},{"offset":0.2699,"color":"#fff"},
{"offset":0.3015,"color":"#fff"},{"offset":0.3015,"color":"#000"},{"offset":0.3175,"color":"#000"},{"offset":0.3175,"color":"#fff"},
{"offset":0.3491,"color":"#fff"},{"offset":0.3491,"color":"#000"},{"offset":0.3651,"color":"#000"},{"offset":0.3651,"color":"#fff"},
{"offset":0.3968,"color":"#fff"},{"offset":0.3968,"color":"#000"},{"offset":0.4128,"color":"#000"},{"offset":0.4128,"color":"#fff"},
{"offset":0.4444,"color":"#fff"},{"offset":0.4444,"color":"#000"},{"offset":0.4604,"color":"#000"},{"offset":0.4604,"color":"#fff"},
{"offset":0.4920,"color":"#fff"},{"offset":0.4920,"color":"#000"},{"offset":0.5080,"color":"#000"},{"offset":0.5080,"color":"#fff"},
{"offset":0.5396,"color":"#fff"},{"offset":0.5396,"color":"#000"},{"offset":0.5556,"color":"#000"},{"offset":0.5556,"color":"#fff"},
{"offset":0.5872,"color":"#fff"},{"offset":0.5872,"color":"#000"},{"offset":0.6032,"color":"#000"},{"offset":0.6032,"color":"#fff"},
{"offset":0.6349,"color":"#fff"},{"offset":0.6349,"color":"#000"},{"offset":0.6509,"color":"#000"},{"offset":0.6509,"color":"#fff"},
{"offset":0.6825,"color":"#fff"},{"offset":0.6825,"color":"#000"},{"offset":0.6985,"color":"#000"},{"offset":0.6985,"color":"#fff"},
{"offset":0.7301,"color":"#fff"},{"offset":0.7301,"color":"#000"},{"offset":0.7461,"color":"#000"},{"offset":0.7461,"color":"#fff"},
{"offset":0.7777,"color":"#fff"},{"offset":0.7777,"color":"#000"},{"offset":0.7937,"color":"#000"},{"offset":0.7937,"color":"#fff"},
{"offset":0.8253,"color":"#fff"},{"offset":0.8253,"color":"#000"},{"offset":0.8413,"color":"#000"},{"offset":0.8413,"color":"#fff"},
{"offset":0.8730,"color":"#fff"},{"offset":0.8730,"color":"#000"},{"offset":0.8890,"color":"#000"},{"offset":0.8890,"color":"#fff"},
{"offset":0.9206,"color":"#fff"},{"offset":0.9206,"color":"#000"},{"offset":0.9366,"color":"#000"},{"offset":0.9366,"color":"#fff"},
{"offset":0.9682,"color":"#fff"},{"offset":0.9682,"color":"#000"},{"offset":0.9842,"color":"#000"},{"offset":0.9842,"color":"#fff"}
]}}},
{"transform": [{"filter": "datum.series === 's133'"}], "mark": {"type": "bar", "stroke": "black", "strokeWidth": 1.3, "fill": {"gradient": "linear", "x1": 0, "y1": 1, "x2": 0.1961, "y2": -0.1385, "stops": [
{"offset":0.0158,"color":"rgba(0,0,0,0)"},{"offset":0.0158,"color":"#000"},{"offset":0.0318,"color":"#000"},{"offset":0.0318,"color":"rgba(0,0,0,0)"},
{"offset":0.0634,"color":"rgba(0,0,0,0)"},{"offset":0.0634,"color":"#000"},{"offset":0.0794,"color":"#000"},{"offset":0.0794,"color":"rgba(0,0,0,0)"},
{"offset":0.1110,"color":"rgba(0,0,0,0)"},{"offset":0.1110,"color":"#000"},{"offset":0.1270,"color":"#000"},{"offset":0.1270,"color":"rgba(0,0,0,0)"},
{"offset":0.1587,"color":"rgba(0,0,0,0)"},{"offset":0.1587,"color":"#000"},{"offset":0.1747,"color":"#000"},{"offset":0.1747,"color":"rgba(0,0,0,0)"},
{"offset":0.2063,"color":"rgba(0,0,0,0)"},{"offset":0.2063,"color":"#000"},{"offset":0.2223,"color":"#000"},{"offset":0.2223,"color":"rgba(0,0,0,0)"},
{"offset":0.2539,"color":"rgba(0,0,0,0)"},{"offset":0.2539,"color":"#000"},{"offset":0.2699,"color":"#000"},{"offset":0.2699,"color":"rgba(0,0,0,0)"},
{"offset":0.3015,"color":"rgba(0,0,0,0)"},{"offset":0.3015,"color":"#000"},{"offset":0.3175,"color":"#000"},{"offset":0.3175,"color":"rgba(0,0,0,0)"},
{"offset":0.3491,"color":"rgba(0,0,0,0)"},{"offset":0.3491,"color":"#000"},{"offset":0.3651,"color":"#000"},{"offset":0.3651,"color":"rgba(0,0,0,0)"},
{"offset":0.3968,"color":"rgba(0,0,0,0)"},{"offset":0.3968,"color":"#000"},{"offset":0.4128,"color":"#000"},{"offset":0.4128,"color":"rgba(0,0,0,0)"},
{"offset":0.4444,"color":"rgba(0,0,0,0)"},{"offset":0.4444,"color":"#000"},{"offset":0.4604,"color":"#000"},{"offset":0.4604,"color":"rgba(0,0,0,0)"},
{"offset":0.4920,"color":"rgba(0,0,0,0)"},{"offset":0.4920,"color":"#000"},{"offset":0.5080,"color":"#000"},{"offset":0.5080,"color":"rgba(0,0,0,0)"},
{"offset":0.5396,"color":"rgba(0,0,0,0)"},{"offset":0.5396,"color":"#000"},{"offset":0.5556,"color":"#000"},{"offset":0.5556,"color":"rgba(0,0,0,0)"},
{"offset":0.5872,"color":"rgba(0,0,0,0)"},{"offset":0.5872,"color":"#000"},{"offset":0.6032,"color":"#000"},{"offset":0.6032,"color":"rgba(0,0,0,0)"},
{"offset":0.6349,"color":"rgba(0,0,0,0)"},{"offset":0.6349,"color":"#000"},{"offset":0.6509,"color":"#000"},{"offset":0.6509,"color":"rgba(0,0,0,0)"},
{"offset":0.6825,"color":"rgba(0,0,0,0)"},{"offset":0.6825,"color":"#000"},{"offset":0.6985,"color":"#000"},{"offset":0.6985,"color":"rgba(0,0,0,0)"},
{"offset":0.7301,"color":"rgba(0,0,0,0)"},{"offset":0.7301,"color":"#000"},{"offset":0.7461,"color":"#000"},{"offset":0.7461,"color":"rgba(0,0,0,0)"},
{"offset":0.7777,"color":"rgba(0,0,0,0)"},{"offset":0.7777,"color":"#000"},{"offset":0.7937,"color":"#000"},{"offset":0.7937,"color":"rgba(0,0,0,0)"},
{"offset":0.8253,"color":"rgba(0,0,0,0)"},{"offset":0.8253,"color":"#000"},{"offset":0.8413,"color":"#000"},{"offset":0.8413,"color":"rgba(0,0,0,0)"},
{"offset":0.8730,"color":"rgba(0,0,0,0)"},{"offset":0.8730,"color":"#000"},{"offset":0.8890,"color":"#000"},{"offset":0.8890,"color":"rgba(0,0,0,0)"},
{"offset":0.9206,"color":"rgba(0,0,0,0)"},{"offset":0.9206,"color":"#000"},{"offset":0.9366,"color":"#000"},{"offset":0.9366,"color":"rgba(0,0,0,0)"},
{"offset":0.9682,"color":"rgba(0,0,0,0)"},{"offset":0.9682,"color":"#000"},{"offset":0.9842,"color":"#000"},{"offset":0.9842,"color":"rgba(0,0,0,0)"}
]}}},
{"transform": [{"filter": "datum.series === 's159'"}], "mark": {"type": "bar", "stroke": "black", "strokeWidth": 1.3, "fill": {"gradient": "linear", "x1": 0, "y1": 0, "x2": 0, "y2": 1, "stops": [
{"offset":0.0095,"color":"#fff"},{"offset":0.0095,"color":"#000"},{"offset":0.0155,"color":"#000"},{"offset":0.0155,"color":"#fff"},
{"offset":0.0345,"color":"#fff"},{"offset":0.0345,"color":"#000"},{"offset":0.0405,"color":"#000"},{"offset":0.0405,"color":"#fff"},
{"offset":0.0595,"color":"#fff"},{"offset":0.0595,"color":"#000"},{"offset":0.0655,"color":"#000"},{"offset":0.0655,"color":"#fff"},
{"offset":0.0845,"color":"#fff"},{"offset":0.0845,"color":"#000"},{"offset":0.0905,"color":"#000"},{"offset":0.0905,"color":"#fff"},
{"offset":0.1095,"color":"#fff"},{"offset":0.1095,"color":"#000"},{"offset":0.1155,"color":"#000"},{"offset":0.1155,"color":"#fff"},
{"offset":0.1345,"color":"#fff"},{"offset":0.1345,"color":"#000"},{"offset":0.1405,"color":"#000"},{"offset":0.1405,"color":"#fff"},
{"offset":0.1595,"color":"#fff"},{"offset":0.1595,"color":"#000"},{"offset":0.1655,"color":"#000"},{"offset":0.1655,"color":"#fff"},
{"offset":0.1845,"color":"#fff"},{"offset":0.1845,"color":"#000"},{"offset":0.1905,"color":"#000"},{"offset":0.1905,"color":"#fff"},
{"offset":0.2095,"color":"#fff"},{"offset":0.2095,"color":"#000"},{"offset":0.2155,"color":"#000"},{"offset":0.2155,"color":"#fff"},
{"offset":0.2345,"color":"#fff"},{"offset":0.2345,"color":"#000"},{"offset":0.2405,"color":"#000"},{"offset":0.2405,"color":"#fff"},
{"offset":0.2595,"color":"#fff"},{"offset":0.2595,"color":"#000"},{"offset":0.2655,"color":"#000"},{"offset":0.2655,"color":"#fff"},
{"offset":0.2845,"color":"#fff"},{"offset":0.2845,"color":"#000"},{"offset":0.2905,"color":"#000"},{"offset":0.2905,"color":"#fff"},
{"offset":0.3095,"color":"#fff"},{"offset":0.3095,"color":"#000"},{"offset":0.3155,"color":"#000"},{"offset":0.3155,"color":"#fff"},
{"offset":0.3345,"color":"#fff"},{"offset":0.3345,"color":"#000"},{"offset":0.3405,"color":"#000"},{"offset":0.3405,"color":"#fff"},
{"offset":0.3595,"color":"#fff"},{"offset":0.3595,"color":"#000"},{"offset":0.3655,"color":"#000"},{"offset":0.3655,"color":"#fff"},
{"offset":0.3845,"color":"#fff"},{"offset":0.3845,"color":"#000"},{"offset":0.3905,"color":"#000"},{"offset":0.3905,"color":"#fff"},
{"offset":0.4095,"color":"#fff"},{"offset":0.4095,"color":"#000"},{"offset":0.4155,"color":"#000"},{"offset":0.4155,"color":"#fff"},
{"offset":0.4345,"color":"#fff"},{"offset":0.4345,"color":"#000"},{"offset":0.4405,"color":"#000"},{"offset":0.4405,"color":"#fff"},
{"offset":0.4595,"color":"#fff"},{"offset":0.4595,"color":"#000"},{"offset":0.4655,"color":"#000"},{"offset":0.4655,"color":"#fff"},
{"offset":0.4845,"color":"#fff"},{"offset":0.4845,"color":"#000"},{"offset":0.4905,"color":"#000"},{"offset":0.4905,"color":"#fff"},
{"offset":0.5095,"color":"#fff"},{"offset":0.5095,"color":"#000"},{"offset":0.5155,"color":"#000"},{"offset":0.5155,"color":"#fff"},
{"offset":0.5345,"color":"#fff"},{"offset":0.5345,"color":"#000"},{"offset":0.5405,"color":"#000"},{"offset":0.5405,"color":"#fff"},
{"offset":0.5595,"color":"#fff"},{"offset":0.5595,"color":"#000"},{"offset":0.5655,"color":"#000"},{"offset":0.5655,"color":"#fff"},
{"offset":0.5845,"color":"#fff"},{"offset":0.5845,"color":"#000"},{"offset":0.5905,"color":"#000"},{"offset":0.5905,"color":"#fff"},
{"offset":0.6095,"color":"#fff"},{"offset":0.6095,"color":"#000"},{"offset":0.6155,"color":"#000"},{"offset":0.6155,"color":"#fff"},
{"offset":0.6345,"color":"#fff"},{"offset":0.6345,"color":"#000"},{"offset":0.6405,"color":"#000"},{"offset":0.6405,"color":"#fff"},
{"offset":0.6595,"color":"#fff"},{"offset":0.6595,"color":"#000"},{"offset":0.6655,"color":"#000"},{"offset":0.6655,"color":"#fff"},
{"offset":0.6845,"color":"#fff"},{"offset":0.6845,"color":"#000"},{"offset":0.6905,"color":"#000"},{"offset":0.6905,"color":"#fff"},
{"offset":0.7095,"color":"#fff"},{"offset":0.7095,"color":"#000"},{"offset":0.7155,"color":"#000"},{"offset":0.7155,"color":"#fff"},
{"offset":0.7345,"color":"#fff"},{"offset":0.7345,"color":"#000"},{"offset":0.7405,"color":"#000"},{"offset":0.7405,"color":"#fff"},
{"offset":0.7595,"color":"#fff"},{"offset":0.7595,"color":"#000"},{"offset":0.7655,"color":"#000"},{"offset":0.7655,"color":"#fff"},
{"offset":0.7845,"color":"#fff"},{"offset":0.7845,"color":"#000"},{"offset":0.7905,"color":"#000"},{"offset":0.7905,"color":"#fff"},
{"offset":0.8095,"color":"#fff"},{"offset":0.8095,"color":"#000"},{"offset":0.8155,"color":"#000"},{"offset":0.8155,"color":"#fff"},
{"offset":0.8345,"color":"#fff"},{"offset":0.8345,"color":"#000"},{"offset":0.8405,"color":"#000"},{"offset":0.8405,"color":"#fff"},
{"offset":0.8595,"color":"#fff"},{"offset":0.8595,"color":"#000"},{"offset":0.8655,"color":"#000"},{"offset":0.8655,"color":"#fff"},
{"offset":0.8845,"color":"#fff"},{"offset":0.8845,"color":"#000"},{"offset":0.8905,"color":"#000"},{"offset":0.8905,"color":"#fff"},
{"offset":0.9095,"color":"#fff"},{"offset":0.9095,"color":"#000"},{"offset":0.9155,"color":"#000"},{"offset":0.9155,"color":"#fff"},
{"offset":0.9345,"color":"#fff"},{"offset":0.9345,"color":"#000"},{"offset":0.9405,"color":"#000"},{"offset":0.9405,"color":"#fff"},
{"offset":0.9595,"color":"#fff"},{"offset":0.9595,"color":"#000"},{"offset":0.9655,"color":"#000"},{"offset":0.9655,"color":"#fff"},
{"offset":0.9845,"color":"#fff"},{"offset":0.9845,"color":"#000"},{"offset":0.9905,"color":"#000"},{"offset":0.9905,"color":"#fff"}
]}}}
]
}
],
"resolve": {"scale": {"stroke": "independent"}, "legend": {"stroke": "independent"}},
"config": {
"font": "Liberation Serif",
"view": {"stroke": "black", "strokeWidth": 1.5},
"axis": {"domainColor": "black", "domainWidth": 1.5, "tickColor": "black", "tickWidth": 1.2, "tickSize": -5, "labelColor": "black", "labelFont": "Liberation Serif", "labelFontSize": 22, "titleFont": "Liberation Serif", "titleFontSize": 23, "titleFontWeight": "normal", "titleColor": "black", "grid": false},
"title": {"font": "Liberation Serif", "fontSize": 28, "fontWeight": "normal", "color": "black"}
}
}
